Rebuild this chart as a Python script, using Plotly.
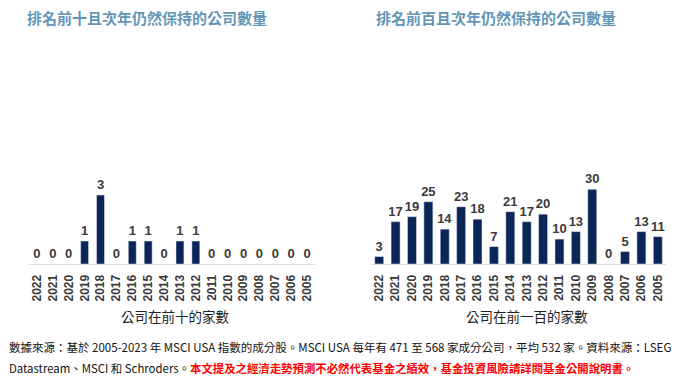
import plotly.graph_objects as go

years_top10 = ["2022","2021","2020","2019","2018","2017","2016","2015","2014","2013","2012","2011","2010","2009","2008","2007","2006","2005"]
counts_top10 = [0,0,0,1,3,0,1,1,0,1,1,0,0,0,0,0,0,0]
years_top100 = years_top10[:]
counts_top100 = [3,17,19,25,14,23,18,7,21,17,20,10,13,30,0,5,13,11]

title_left = "排名前十且次年仍然保持的公司數量"
title_right = "排名前百且次年仍然保持的公司數量"
xtitle_left = "公司在前十的家數"
xtitle_right = "公司在前一百的家數"
note_line1 = "數據來源：基於 2005-2023 年 MSCI USA 指數的成分股。MSCI USA 每年有 471 至 568 家成分公司，平均 532 家。資料來源：LSEG"
note_line2a = "Datastream、MSCI 和 Schroders。"
note_line2b = "本文提及之經濟走勢預測不必然代表基金之績效，基金投資風險請詳閱基金公開說明書。"

OFF = 8  # page body margin
W, H = 686 - OFF, 381 - OFF
BAR = "#0b2557"
TXT = "#3a3a3a"
CJK = "Noto Sans CJK TC"

def px(x):
    return (x - OFF) / W

def py(y):
    return 1 - (y - OFF) / H

base_y = 264
top_y = 40
plot_h = base_y - top_y

fig = go.Figure()
fig.add_trace(go.Bar(x=years_top10, y=counts_top10, marker_color=BAR, text=counts_top10,
                     textposition="outside", cliponaxis=False, constraintext="none",
                     textfont=dict(size=13, color=TXT, family="Arial", weight="bold"),
                     xaxis="x", yaxis="y", width=0.5))
fig.add_trace(go.Bar(x=years_top100, y=counts_top100, marker_color=BAR, text=counts_top100,
                     textposition="outside", cliponaxis=False, constraintext="none",
                     textfont=dict(size=13, color=TXT, family="Arial", weight="bold"),
                     xaxis="x2", yaxis="y2", width=0.55))

axis_common = dict(type="category", tickangle=-90, showline=True, linecolor="#dcdcdc", linewidth=1,
                   ticks="", showgrid=False, ticklabelstandoff=5,
                   tickfont=dict(size=12, color=TXT, family="Arial", weight="bold"))

fig.update_layout(
    width=W, height=H, margin=dict(l=0, r=0, t=0, b=0),
    paper_bgcolor="white", plot_bgcolor="white", showlegend=False,
    xaxis=dict(domain=[px(29), px(315)], anchor="y", **axis_common),
    yaxis=dict(domain=[py(base_y), py(top_y)], range=[0, plot_h / 23.0], visible=False, anchor="x"),
    xaxis2=dict(domain=[px(371), px(666)], anchor="y2", **axis_common),
    yaxis2=dict(domain=[py(base_y), py(top_y)], range=[0, plot_h / 2.49], visible=False, anchor="x2"),
    font=dict(family=CJK),
)

def note(text, x, y, size, color, xanchor="center"):
    return dict(text=text, x=px(x), y=py(y), xref="paper", yref="paper", xanchor=xanchor,
                yanchor="middle", showarrow=False, borderpad=0,
                font=dict(size=size, color=color, family=CJK))

ann = [
    note("<b>" + title_left + "</b>", 147, 17, 15, "#6596b8"),
    note("<b>" + title_right + "</b>", 496, 17, 15, "#6596b8"),
    note(xtitle_left, 175, 316, 13.5, "#222222"),
    note(xtitle_right, 527, 316, 13.5, "#222222"),
    note(note_line1, 8, 347, 11.5, "#111111", "left"),
    note(note_line2a + "<span style='color:#ff0000'><b>" + note_line2b + "</b></span>", 8, 368, 11.4, "#111111", "left"),
]
fig.update_layout(annotations=ann)

fig.write_html("out.html")
